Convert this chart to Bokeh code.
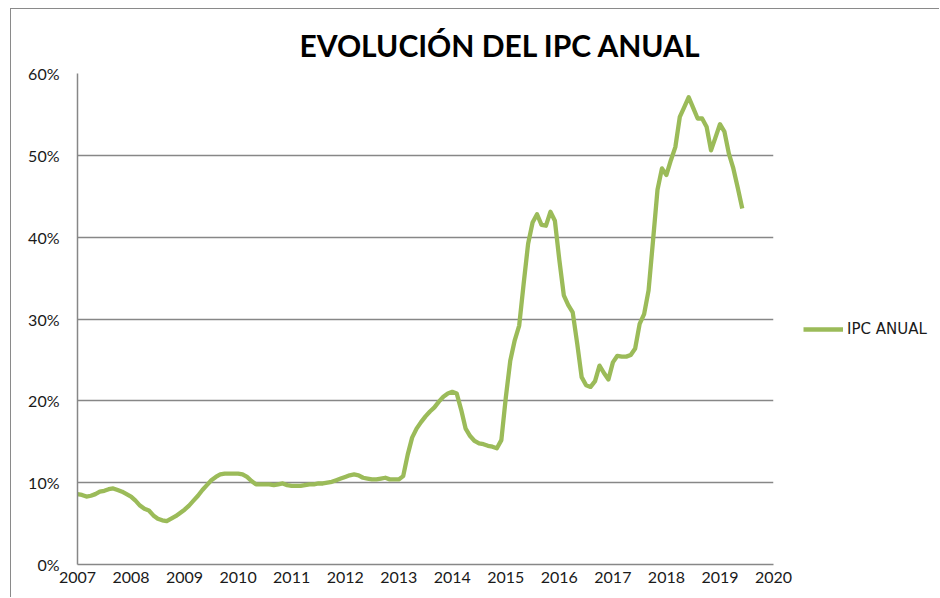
from bokeh.plotting import figure
from bokeh.layouts import row
from bokeh.models import FixedTicker, PrintfTickFormatter, Legend, LegendItem, Title
from bokeh.embed import file_html
from bokeh.resources import INLINE

# ---- data (monthly annual CPI, Jan 2007 .. Jun 2019) ----
start_year = 2007
ipc_anual = [
    8.6, 8.5, 8.3, 8.4, 8.6, 8.9, 9.0, 9.2, 9.3, 9.1, 8.9, 8.6,        # 2007
    8.3, 7.8, 7.2, 6.8, 6.6, 6.0, 5.6, 5.4, 5.3, 5.6, 5.9, 6.3,        # 2008
    6.7, 7.2, 7.8, 8.4, 9.1, 9.7, 10.3, 10.7, 11.0, 11.1, 11.1, 11.1,  # 2009
    11.1, 11.0, 10.7, 10.2, 9.8, 9.8, 9.8, 9.8, 9.7, 9.8, 9.9, 9.7,    # 2010
    9.6, 9.6, 9.6, 9.7, 9.8, 9.8, 9.9, 9.9, 10.0, 10.1, 10.3, 10.5,    # 2011
    10.7, 10.9, 11.0, 10.9, 10.6, 10.5, 10.4, 10.4, 10.5, 10.6, 10.4, 10.4,  # 2012
    10.4, 10.8, 13.4, 15.5, 16.6, 17.4, 18.1, 18.7, 19.2, 19.9, 20.5, 20.9,  # 2013
    21.1, 20.9, 18.9, 16.6, 15.7, 15.1, 14.8, 14.7, 14.5, 14.4, 14.2, 15.2,  # 2014
    20.4, 24.9, 27.4, 29.2, 34.3, 39.2, 41.8, 42.8, 41.5, 41.4, 43.1, 42.0,  # 2015
    37.2, 32.9, 31.7, 30.8, 27.0, 22.9, 21.9, 21.7, 22.4, 24.3, 23.4, 22.6,  # 2016
    24.7, 25.5, 25.4, 25.4, 25.6, 26.4, 29.4, 30.6, 33.5, 39.6, 45.8, 48.4,  # 2017
    47.6, 49.4, 51.0, 54.7, 55.9, 57.1, 55.8, 54.5, 54.5, 53.5, 50.6, 52.2,  # 2018
    53.8, 52.9, 50.2, 48.4, 46.0, 43.5,                                      # 2019
]
months = [start_year + i / 12 for i in range(len(ipc_anual))]
year_ticks = list(range(2007, 2021))
pct_ticks = [0, 10, 20, 30, 40, 50, 60]
series_name = "IPC ANUAL"
title_text = "EVOLUCIÓN DEL IPC ANUAL"

GREEN = "#9bbb59"
GRAY = "#878787"
FONT = "Lato"
H = 588

# ---- main chart ----
p = figure(width=784, height=H, output_backend="svg", toolbar_location=None,
           x_range=(2007, 2020), y_range=(0, 60),
           min_border_left=66, min_border_right=22, min_border_top=64, min_border_bottom=33)
p.outline_line_color = None
p.background_fill_color = "white"
p.border_fill_color = "white"

r = p.line(months, ipc_anual, line_color=GREEN, line_width=4.3, line_join="round")

p.xaxis.ticker = FixedTicker(ticks=year_ticks)
p.xaxis.formatter.use_scientific = False
p.yaxis.ticker = FixedTicker(ticks=pct_ticks)
p.yaxis.formatter = PrintfTickFormatter(format="%d%%")
for ax in (p.xaxis, p.yaxis):
    ax.axis_line_color = GRAY
    ax.axis_line_width = 1.5
    ax.major_tick_out = 0
    ax.major_tick_in = 0
    ax.minor_tick_out = 0
    ax.minor_tick_in = 0
    ax.major_label_text_font = FONT
    ax.major_label_text_font_size = "16px"
    ax.major_label_text_color = "#1a1a1a"
p.xaxis.major_label_standoff = 7
p.yaxis.major_label_standoff = 18

p.xgrid.grid_line_color = None
p.ygrid.grid_line_color = GRAY
p.ygrid.grid_line_width = 1.5

p.title = Title(text=title_text, align="left", offset=222, standoff=18,
                vertical_align="top",
                text_font=FONT, text_font_style="bold", text_font_size="30px",
                text_color="#000000")

# ---- legend area (right side of the chart box) ----
q = figure(width=144, height=H, output_backend="svg", toolbar_location=None,
           x_range=(0, 1), y_range=(0, 1),
           min_border_left=0, min_border_right=0, min_border_top=0, min_border_bottom=0)
q.axis.visible = False
q.grid.visible = False
q.outline_line_color = None
q.border_fill_color = "white"
q.background_fill_color = "white"
# same series, drawn outside this panel's ranges: only its legend key shows
key = q.line(months, ipc_anual, line_color=GREEN, line_width=4.3)

legend = Legend(items=[LegendItem(label=series_name, renderers=[key])],
                location=(8, 225), glyph_width=40, glyph_height=20,
                label_standoff=4, padding=0, margin=0, spacing=0,
                border_line_color=None, background_fill_alpha=0,
                label_text_font="DejaVu Sans", label_text_font_size="15px",
                label_text_color="#1a1a1a")
q.add_layout(legend)

layout = row(p, q, spacing=0)
layout.styles = {"margin-left": "10px", "margin-top": "8px",
                 "border-left": "1.5px solid #8a8a8a", "border-top": "1.5px solid #8a8a8a"}

open("out.html", "w").write(file_html(layout, INLINE))
